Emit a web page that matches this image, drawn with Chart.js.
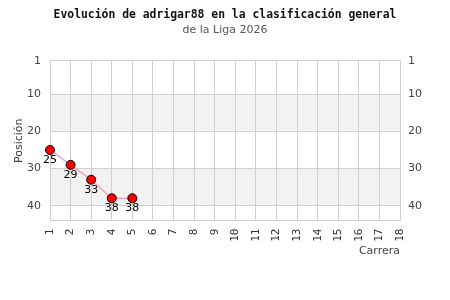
<!DOCTYPE html>
<html>
<head>
<meta charset="utf-8">
<script src="https://cdn.jsdelivr.net/npm/chart.js@4"></script>
<style>
  body { margin: 0; background: #fff; }
</style>
</head>
<body>
<canvas id="chart1" width="450" height="300"></canvas>
<script>
// datos
var carreras = ["1","2","3","4","5","6","7","8","9","10","11","12","13","14","15","16","17","18"];
var posiciones = [25, 29, 33, 38, 38];
var ticksPos = [1, 10, 20, 30, 40];
var bandas = [[10, 20], [30, 40]];

// franjas grises
var bandPlugin = {
    id: 'bandas',
    beforeDraw: function (chart) {
        var ctx = chart.ctx, a = chart.chartArea, y = chart.scales.y;
        ctx.save();
        ctx.fillStyle = '#f2f2f2';
        bandas.forEach(function (b) {
            var y1 = y.getPixelForValue(b[0]), y2 = y.getPixelForValue(b[1]);
            ctx.fillRect(a.left, y1, a.right - a.left, y2 - y1);
        });
        ctx.restore();
    }
};

// etiquetas bajo los puntos
var labelPlugin = {
    id: 'etiquetas',
    afterDatasetsDraw: function (chart) {
        var ctx = chart.ctx;
        var meta = chart.getDatasetMeta(0);
        ctx.save();
        ctx.font = '11px "DejaVu Sans"';
        ctx.fillStyle = '#000';
        ctx.textAlign = 'center';
        ctx.textBaseline = 'middle';
        meta.data.forEach(function (pt, i) {
            ctx.fillText(posiciones[i], pt.x, pt.y + 10);
        });
        ctx.restore();
    }
};

function setTicks(scale) {
    scale.ticks = ticksPos.map(function (v) { return { value: v }; });
}

var ctx_chart1 = document.getElementById('chart1').getContext('2d');
var chart1 = new Chart(ctx_chart1, {
    type: 'line',
    data: {
        labels: carreras,
        datasets: [{
            data: posiciones,
            borderColor: '#f4a0c4',
            borderWidth: 1.5,
            backgroundColor: '#ff0000',
            pointBackgroundColor: '#ff0000',
            pointBorderColor: '#000',
            pointBorderWidth: 1,
            pointRadius: 4.5,
            tension: 0,
            fill: false
        }]
    },
    options: {
        responsive: false,
        animation: false,
        layout: { padding: { left: 0, right: 0, top: 0, bottom: 42 } },
        plugins: {
            legend: { display: false },
            tooltip: { enabled: false },
            title: {
                display: true,
                text: 'Evolución de adrigar88 en la clasificación general',
                color: '#111',
                font: { family: 'DejaVu Sans Mono', size: 11.4, weight: 'bold' },
                padding: { top: 8, bottom: 2 }
            },
            subtitle: {
                display: true,
                text: 'de la Liga 2026',
                color: '#555',
                font: { family: 'DejaVu Sans', size: 11 },
                padding: { top: 0, bottom: 24 }
            }
        },
        scales: {
            x: {
                offset: false,
                grid: { color: '#d0d0d0', drawTicks: false, offset: false },
                border: { color: '#d0d0d0' },
                ticks: {
                    autoSkip: false,
                    maxRotation: 90,
                    minRotation: 90,
                    padding: 8,
                    color: '#333',
                    font: { family: 'DejaVu Sans Mono', size: 11 }
                },
                title: {
                    display: true,
                    text: 'Carrera',
                    align: 'end',
                    color: '#444',
                    font: { family: 'DejaVu Sans', size: 11 },
                    padding: { top: -5, bottom: 0 }
                }
            },
            y: {
                position: 'left',
                reverse: true,
                min: 1,
                max: 44,
                afterBuildTicks: setTicks,
                grid: { color: '#d0d0d0', drawTicks: false },
                border: { color: '#d0d0d0' },
                ticks: {
                    padding: 9,
                    color: '#444',
                    font: { family: 'DejaVu Sans', size: 11 }
                },
                title: {
                    display: true,
                    text: 'Posición',
                    color: '#444',
                    font: { family: 'DejaVu Sans', size: 11 },
                    padding: { top: 13, bottom: 0 }
                },
                afterFit: function (s) { s.width = 50; }
            },
            y2: {
                position: 'right',
                reverse: true,
                min: 1,
                max: 44,
                afterBuildTicks: setTicks,
                grid: { display: false, drawTicks: false },
                border: { color: '#d0d0d0' },
                ticks: {
                    padding: 8,
                    color: '#444',
                    font: { family: 'DejaVu Sans', size: 11 }
                },
                afterFit: function (s) { s.width = 50; }
            }
        }
    },
    plugins: [bandPlugin, labelPlugin]
});
</script>
</body>
</html>
